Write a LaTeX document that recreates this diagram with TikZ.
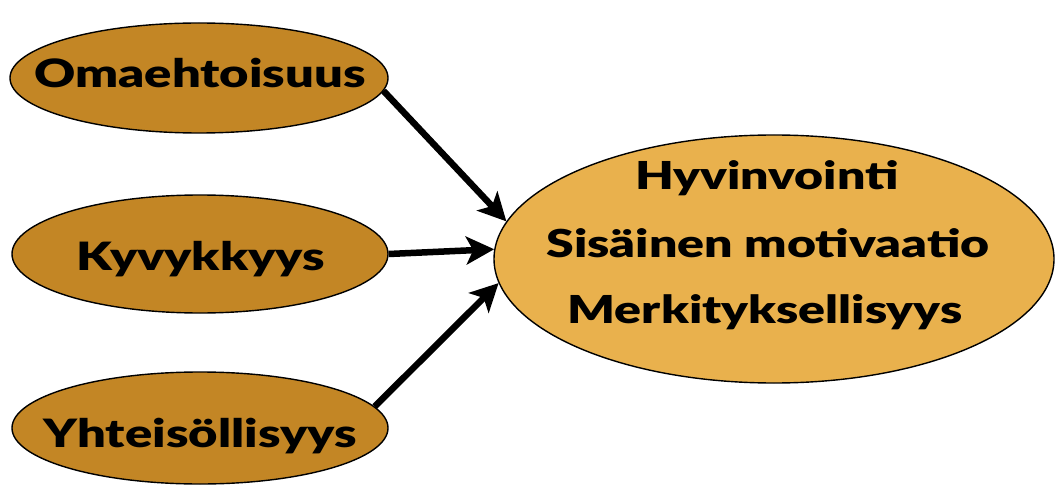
\documentclass[tikz,border=0pt]{standalone}
\usepackage{fontspec}
\setmainfont{Lato}[BoldFont={Lato Black},BoldFeatures={FakeStretch=1.3}]
\usetikzlibrary{shapes.geometric,arrows.meta}
\definecolor{darkgold}{RGB}{195,134,37}
\definecolor{lightgold}{RGB}{233,177,77}
\tikzset{
  smallell/.style={ellipse,draw=black,line width=1.4pt,fill=darkgold,inner sep=0pt},
  bigell/.style={ellipse,draw=black,line width=1.4pt,fill=lightgold,minimum width=560pt,minimum height=248pt,inner sep=0pt},
  lbl/.style={font=\bfseries\fontsize{39}{44}\selectfont,inner sep=0pt,anchor=base},
  biglbl/.style={font=\bfseries\fontsize{38.5}{44}\selectfont,inner sep=0pt,anchor=base},
  conn/.style={line width=6.5pt,-{Stealth[length=28pt,width=28pt,inset=7pt]}}
}
\begin{document}
\begin{tikzpicture}[x=1pt,y=-1pt]
\useasboundingbox (0,0) rectangle (1056,486);
\node[smallell,minimum width=378pt,minimum height=110pt] (oma) at (199,78) {};
\node[lbl] (omat) at (200,88) {Omaehtoisuus};
\node[smallell,minimum width=376pt,minimum height=118pt] (kyv) at (200,254) {};
\node[lbl] (kyvt) at (201,270) {Kyvykkyys};
\node[smallell,minimum width=376pt,minimum height=112pt] (yht) at (200,428) {};
\node[lbl] (yhtt) at (200,447) {Yhteisöllisyys};
\node[bigell] (big) at (774,259) {};
\node[biglbl] (big1) at (767,190) {Hyvinvointi};
\node[biglbl] (big2) at (768,257) {Sisäinen motivaatio};
\node[biglbl] (big3) at (765,323) {Merkityksellisyys};
\draw[conn] (oma.-4) -- (big.172);
\draw[conn] (kyv.0) -- (big.178.8);
\draw[conn] (yht.7) -- (big.185);
\end{tikzpicture}
\end{document}
